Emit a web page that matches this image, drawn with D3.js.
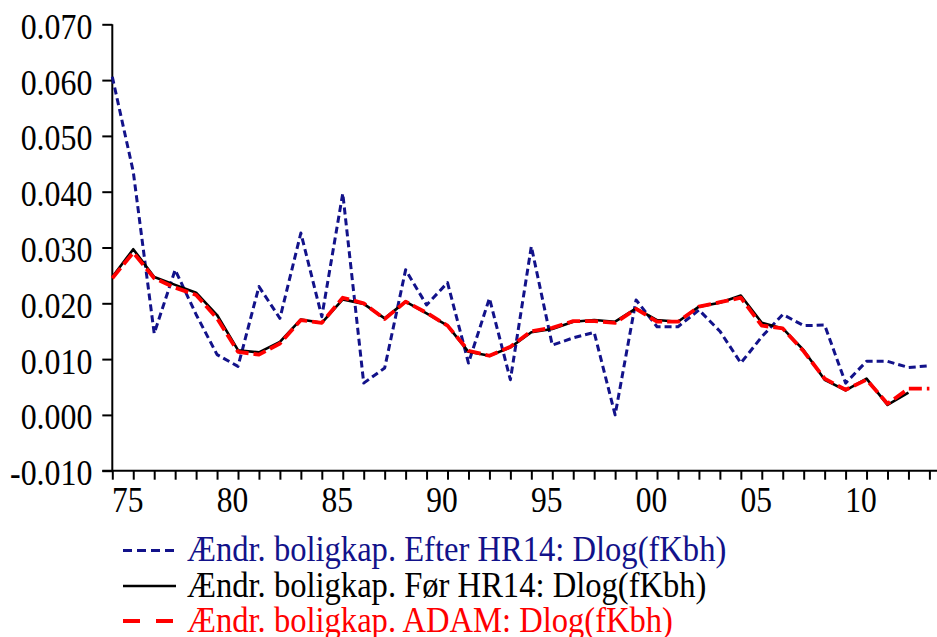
<!DOCTYPE html>
<html>
<head>
<meta charset="utf-8">
<script src="https://cdn.jsdelivr.net/npm/d3@7"></script>
<style>
  body { margin: 0; background: #fff; }
  svg { display: block; }
  text { font-family: "Liberation Serif", "Times New Roman", serif; }
</style>
</head>
<body>
<div id="wrapper"></div>
<script>
// data
const years = [1974, 1975, 1976, 1977, 1978, 1979, 1980, 1981, 1982, 1983,
  1984, 1985, 1986, 1987, 1988, 1989, 1990, 1991, 1992, 1993,
  1994, 1995, 1996, 1997, 1998, 1999, 2000, 2001, 2002, 2003,
  2004, 2005, 2006, 2007, 2008, 2009, 2010, 2011, 2012, 2013]

// Ændr. boligkap. Efter HR14
const efterHR14 = [0.0606, 0.0436, 0.0146, 0.0260, 0.0180, 0.0108, 0.0087, 0.0230, 0.0173, 0.0326,
  0.0176, 0.0397, 0.0057, 0.0084, 0.0260, 0.0197, 0.0237, 0.0093, 0.0209, 0.0063,
  0.0302, 0.0125, 0.0138, 0.0148, 0.0000, 0.0206, 0.0158, 0.0158, 0.0188, 0.0150,
  0.0093, 0.0140, 0.0180, 0.0160, 0.0161, 0.0057, 0.0096, 0.0096, 0.0085, 0.0088]

// Ændr. boligkap. Før HR14
const forHR14 = [0.0247, 0.0297, 0.0247, 0.0233, 0.0219, 0.0179, 0.0116, 0.0112, 0.0131, 0.0171,
  0.0165, 0.0207, 0.0199, 0.0173, 0.0203, 0.0182, 0.0160, 0.0113, 0.0106, 0.0121,
  0.0148, 0.0154, 0.0167, 0.0170, 0.0167, 0.0191, 0.0170, 0.0167, 0.0194, 0.0201,
  0.0214, 0.0165, 0.0155, 0.0116, 0.0063, 0.0044, 0.0065, 0.0018, 0.0040, null]

// Ændr. boligkap. ADAM
const adam = [0.0245, 0.0291, 0.0245, 0.0228, 0.0215, 0.0173, 0.0113, 0.0108, 0.0128, 0.0170,
  0.0165, 0.0210, 0.0200, 0.0172, 0.0203, 0.0183, 0.0160, 0.0115, 0.0106, 0.0122,
  0.0150, 0.0156, 0.0168, 0.0168, 0.0165, 0.0190, 0.0167, 0.0167, 0.0194, 0.0202,
  0.0210, 0.0160, 0.0155, 0.0114, 0.0065, 0.0045, 0.0063, 0.0020, 0.0047, 0.0047]

const yTicks = [-0.01, 0, 0.01, 0.02, 0.03, 0.04, 0.05, 0.06, 0.07]
const xLabelYears = [1975, 1980, 1985, 1990, 1995, 2000, 2005, 2010]

const seriesNames = [
  "Ændr. boligkap. Efter HR14: Dlog(fKbh)",
  "Ændr. boligkap. Før HR14: Dlog(fKbh)",
  "Ændr. boligkap. ADAM: Dlog(fKbh)",
]

// dimensions
const width = 937
const height = 637

const svg = d3.select("#wrapper")
  .append("svg")
    .attr("width", width)
    .attr("height", height)

// scales
const xScale = d3.scaleLinear()
  .domain([1974, 2013])
  .range([112.3, 929.4])

const yScale = d3.scaleLinear()
  .domain([-0.01, 0.07])
  .range([470.7, 24.3])

// squeeze text a little, the original glyphs are narrow and tall
function squeeze(sel, factor) {
  sel.each(function() {
    const len = this.getComputedTextLength()
    d3.select(this)
      .attr("textLength", len * factor)
      .attr("lengthAdjust", "spacingAndGlyphs")
  })
}

// axes
const yAxis = d3.axisLeft(yScale)
  .tickValues(yTicks)
  .tickSize(10)
  .tickSizeOuter(0)
  .tickPadding(10)
  .tickFormat(d => d.toFixed(3))

const yAxisGroup = svg.append("g")
  .attr("transform", `translate(${xScale(1974)}, 0)`)
  .call(yAxis)
yAxisGroup.select(".domain").remove()
yAxisGroup.selectAll("line").attr("stroke", "#000").attr("stroke-width", 2)
yAxisGroup.selectAll("text")
  .attr("font-size", 35)
  .attr("font-family", "Liberation Serif")
  .attr("fill", "#000")
  .attr("dy", "0.4em")
  .call(squeeze, 0.91)

const xAxis = d3.axisBottom(xScale)
  .tickValues(years)
  .tickSize(9)
  .tickSizeOuter(0)
  .tickPadding(7)
  .tickFormat(d => xLabelYears.includes(d) ? String(d).slice(2) : "")

const xAxisGroup = svg.append("g")
  .attr("transform", `translate(0, ${yScale(-0.01)})`)
  .call(xAxis)
xAxisGroup.select(".domain").remove()
xAxisGroup.selectAll("line").attr("stroke", "#000").attr("stroke-width", 2)
xAxisGroup.selectAll("text")
  .attr("font-size", 35)
  .attr("font-family", "Liberation Serif")
  .attr("fill", "#000")
  .attr("dx", -6)
  .filter(function() { return this.textContent !== "" })
  .call(squeeze, 0.9)

// axis lines
svg.append("line")
  .attr("x1", xScale(1974)).attr("x2", xScale(1974))
  .attr("y1", yScale(0.07)).attr("y2", yScale(-0.01))
  .attr("stroke", "#000").attr("stroke-width", 2)
svg.append("line")
  .attr("x1", xScale(1974) - 10).attr("x2", width)
  .attr("y1", yScale(-0.01)).attr("y2", yScale(-0.01))
  .attr("stroke", "#000").attr("stroke-width", 2)

// lines
const lineGenerator = d3.line()
  .defined(d => d[1] != null)
  .x(d => xScale(d[0]))
  .y(d => yScale(d[1]))

const series = [
  { values: efterHR14, color: "#12128a", width: 3, dash: "7,4", legendDash: "9,5" },
  { values: forHR14, color: "#000000", width: 2.6, dash: null, legendDash: null },
  { values: adam, color: "#ff0000", width: 3.8, dash: "13,5", legendDash: "17,16" },
]

series.forEach(s => {
  svg.append("path")
    .datum(years.map((y, i) => [y, s.values[i]]))
    .attr("d", lineGenerator)
    .attr("fill", "none")
    .attr("stroke", s.color)
    .attr("stroke-width", s.width)
    .attr("stroke-dasharray", s.dash)
    .attr("stroke-linejoin", "round")
})

// legend
const legendBaselines = [561, 596.5, 631.5]
const legend = svg.append("g")
series.forEach((s, i) => {
  legend.append("line")
    .attr("x1", 123).attr("x2", 176)
    .attr("y1", legendBaselines[i] - 10.5)
    .attr("y2", legendBaselines[i] - 10.5)
    .attr("stroke", s.color)
    .attr("stroke-width", s.width)
    .attr("stroke-dasharray", s.legendDash)
  legend.append("text")
    .attr("x", 187)
    .attr("y", legendBaselines[i])
    .attr("font-size", 36)
    .attr("fill", s.color)
    .text(seriesNames[i])
    .call(squeeze, 0.905)
})
</script>
</body>
</html>
